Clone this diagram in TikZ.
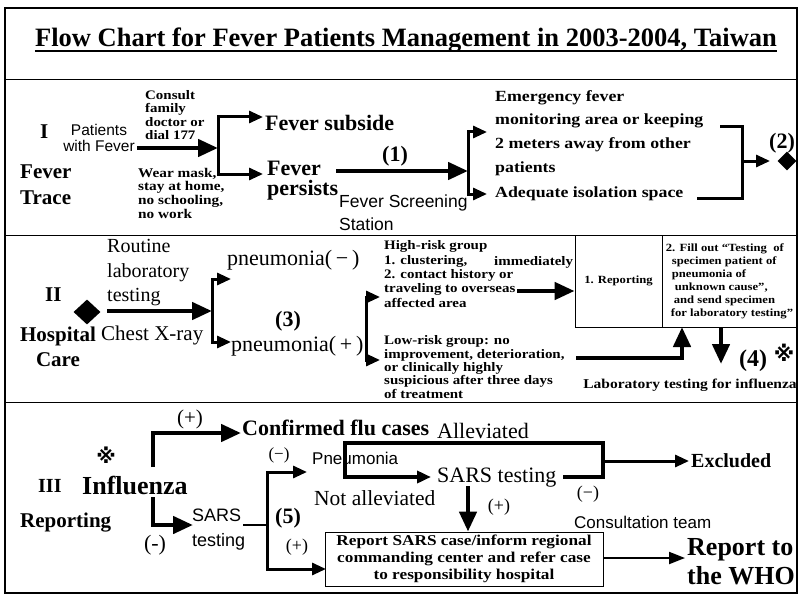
\documentclass[tikz,border=0pt]{standalone}
\usepackage{fontspec}
\setmainfont{Liberation Serif}
\newfontfamily\sansf{Liberation Sans}
\newfontfamily\widerm[FakeStretch=1.15]{Liberation Serif}
\newfontfamily\symf{DejaVu Sans}
\usepackage{tikz}
\usetikzlibrary{arrows.meta,shapes.geometric,positioning,calc}
\newcommand\setfs[2]{\fontsize{#1}{#2}\selectfont}
\tikzset{
  txt/.style={inner sep=0pt, anchor=west},
  bigarrow/.style={line width=4.5pt, -{Triangle[length=20pt,width=17pt]}},
  brarrow/.style={line width=3pt, -{Triangle[length=14pt,width=12pt]}},
  brk/.style={line width=3pt},
  bold/.style={font={\bfseries\setfs{#1}{#1}}},
  small/.style={font={\widerm\bfseries\setfs{13}{13.5}}},
}

\begin{document}
\begin{tikzpicture}[x=1pt,y=-1pt]
    \useasboundingbox (0,0) rectangle (799,596);

    % Frame and section rules
    \draw[line width=1.3pt] (5,8) rectangle (797,593);
    \foreach \yy in {80,235,402}
        \draw[line width=1pt] (5,\yy) -- (797,\yy);

    % Title
    \node[inner sep=0pt, anchor=base, font={\bfseries\setfs{26.5}{30}}] (title) at (406,47)
        {Flow Chart for Fever Patients Management in 2003-2004, Taiwan};
    \draw[line width=1.2pt] ([yshift=-4pt]title.base west) -- ([yshift=-4pt]title.base east);

    % I  Fever Trace
    \node[txt, bold=21] (secI) at (40,132) {I};
    \node[inner sep=0pt, align=center, font={\sansf\setfs{15.5}{16}}] (patients) at (99,138) {Patients\\with Fever};
    \node[txt, align=left, font={\bfseries\setfs{21}{26}}] (trace) at (20,185) {Fever\\Trace};
    \node[txt, align=left, small] (consult) at (145,115) {Consult\\family\\doctor or\\dial 177};
    \node[txt, align=left, font={\widerm\bfseries\setfs{13.3}{13.7}}] (mask) at (138,193) {Wear mask,\\stay at home,\\no schooling,\\no work};
    \node[txt, bold=22] (subside) at (265,123) {Fever subside};
    \node[txt, align=left, font={\bfseries\setfs{22}{20}}] (persists) at (267,181) {Fever\\persists};
    \node[bold=22, inner sep=0pt] (one) at (395,156) {(1)};
    \node[txt, align=left, font={\sansf\setfs{17.5}{23}}] (screen) at (339,213) {Fever Screening\\Station};
    \node[txt, align=left, font={\widerm\bfseries\setfs{15.5}{23.7}}] (emerg) at (495,133)
        {Emergency fever\\monitoring area or keeping\\2 meters away from other\\patients};
    \node[txt, font={\widerm\bfseries\setfs{15.5}{16}}] (isol) at (495,194) {Adequate isolation space};
    \node[bold=22, inner sep=0pt] (two) at (782,143) {(2)};
    \node[diamond, fill=black, inner sep=0pt, minimum width=19pt, minimum height=19pt] (dmdI) at (787,161) {};

    \coordinate (pfOut) at (137,148);
    \coordinate (brA) at (218,148);
    \coordinate (subIn) at (263,117);
    \coordinate (perIn) at (263,174);
    \coordinate (perOut) at (336,171);
    \coordinate (brB) at (468,171);
    \coordinate (emIn) at (487,132);
    \coordinate (isIn) at (487,194);
    \coordinate (emOut) at (720,127);
    \coordinate (isOut) at (697,198);
    \coordinate (brC) at (742,161);
    \coordinate (dmIn) at (770,161);
    \draw[bigarrow] (pfOut) -- (brA);
    \draw[brarrow] (brA) |- (subIn);
    \draw[brarrow] (brA) |- (perIn);
    \draw[bigarrow] (perOut) -- (brB);
    \draw[brarrow] ([yshift=-1pt]brB) |- (emIn);
    \draw[brarrow] ([yshift=-1pt]brB) |- (isIn);
    \draw[brk] (emOut) -| (brC) |- (isOut);
    \draw[brarrow] (brC) -- (dmIn);

    % II  Hospital Care
    \node[txt, bold=21] (secII) at (45,295) {II};
    \node[diamond, fill=black, inner sep=0pt, minimum width=27pt, minimum height=25pt] (dmdII) at (87,312) {};
    \node[txt, align=left, font={\setfs{20}{24.5}}] (routine) at (107,273) {Routine\\laboratory\\testing};
    \node[inner sep=0pt, align=center, font={\bfseries\setfs{21}{25}}] (hosp) at (58,347) {Hospital\\Care};
    \node[txt, font={\setfs{21}{21}}] (xray) at (101,335) {Chest X-ray};
    \node[txt, font={\setfs{22}{22}}] (pneuNeg) at (227,260) {pneumonia(\,−\,)};
    \node[txt, font={\setfs{22}{22}}] (pneuPos) at (231,346) {pneumonia(\,+\,)};
    \node[bold=22, inner sep=0pt] (three) at (288,321) {(3)};
    \node[txt, align=left, font={\widerm\bfseries\setfs{13}{14.3}}] (high) at (384,274)
        {High-risk group\\1. clustering,\\2. contact history or\\traveling to overseas\\affected area};
    \node[txt, font={\widerm\bfseries\setfs{13}{13}}] (immed) at (494,262) {immediately};
    \node[txt, align=left, font={\widerm\bfseries\setfs{13}{13.3}}] (low) at (384,367)
        {Low-risk group: no\\improvement, deterioration,\\or clinically highly\\suspicious after three days\\of treatment};
    \node[draw, line width=0.8pt, minimum width=87pt, minimum height=92pt, inner sep=0pt,
          font={\widerm\bfseries\setfs{11}{13}}] (rep1) at (618.5,281) {1. Reporting};
    \node[draw, line width=0.8pt, minimum width=135pt, minimum height=92pt, inner sep=0pt,
          font={\widerm\bfseries\setfs{11}{13}}, align=left] (rep2) at (729.5,281)
        {2. Fill out “Testing\ \ of\\\hspace*{6pt}specimen patient of\\\hspace*{6pt}pneumonia of\\\hspace*{9pt}unknown cause”,\\\hspace*{8pt}and send specimen\\\hspace*{5pt}for laboratory testing”};
    \node[bold=24, inner sep=0pt] (four) at (753,361) {(4)};
    \node[inner sep=0pt, font={\symf\bfseries\setfs{21}{21}}] (markA) at (784,353) {※};
    \node[inner sep=0pt, font={\widerm\bfseries\setfs{13.5}{14}}] (labtest) at (690,385) {Laboratory testing for influenza};

    \coordinate (routOut) at (107,311);
    \coordinate (brD) at (212,311);
    \coordinate (negIn) at (231,279);
    \coordinate (posIn) at (231,342);
    \coordinate (brE) at (366,328);
    \coordinate (highIn) at (380,297);
    \coordinate (lowIn) at (380,360);
    \coordinate (highOut) at (517,291);
    \coordinate (lowOut) at (576,358);
    \coordinate (rep2In) at (682,327);
    \coordinate (rep2Out) at (721,327);
    \coordinate (labIn) at (721,364);
    \draw[bigarrow] (routOut) -- (brD);
    \draw[brarrow] (brD) |- (negIn);
    \draw[brarrow] (brD) |- (posIn);
    \draw[brarrow] (brE) |- (highIn);
    \draw[brarrow] (brE) |- (lowIn);
    \draw[bigarrow] (highOut) -- (rep1.west |- highOut);
    \draw[bigarrow] (lowOut) -| (rep2In);
    \draw[bigarrow] (rep2Out) -- (labIn);

    % III  Influenza Reporting
    \node[inner sep=0pt, font={\symf\bfseries\setfs{20}{20}}] (markB) at (106,455) {※};
    \node[txt, bold=20] (secIII) at (38,486) {III};
    \node[txt, bold=26] (flu) at (82,485) {Influenza};
    \node[txt, bold=21] (reporting) at (20,523) {Reporting};
    \node[inner sep=0pt, font={\setfs{21}{21}}] (plusA) at (190,419) {(+)};
    \node[txt, bold=22] (confirmed) at (242,428) {Confirmed flu cases};
    \node[inner sep=0pt, font={\setfs{22}{22}}] (minusA) at (155,545) {(-)};
    \node[txt, align=left, font={\sansf\setfs{18}{25}}] (sarsA) at (192,530) {SARS\\testing};
    \node[inner sep=0pt, font={\setfs{17}{17}}] (minusB) at (279,455) {(−)};
    \node[txt, font={\sansf\setfs{17}{17}}] (pneu) at (312,458) {Pneumonia};
    \node[bold=22, inner sep=0pt] (five) at (288,518) {(5)};
    \node[inner sep=0pt, font={\setfs{18}{18}}] (plusB) at (297,547) {(+)};
    \node[txt, font={\setfs{22}{22}}] (allev) at (437,431) {Alleviated};
    \node[txt, font={\setfs{22}{22}}] (sarsB) at (437,478) {SARS testing};
    \node[txt, font={\setfs{21.5}{21.5}}] (notallev) at (314,498) {Not alleviated};
    \node[txt, bold=20] (excl) at (691,461) {Excluded};
    \node[inner sep=0pt, font={\setfs{18}{18}}] (minusC) at (588,494) {(−)};
    \node[inner sep=0pt, font={\setfs{18}{18}}] (plusC) at (499,507) {(+)};
    \node[txt, font={\sansf\setfs{17}{17}}] (team) at (574,522) {Consultation team};
    \node[draw, line width=0.8pt, minimum width=278pt, minimum height=54pt, inner sep=0pt, align=center,
          font={\widerm\bfseries\setfs{15}{17.2}}] (sarsbox) at (464,559)
        {Report SARS case/inform regional\\commanding center and refer case\\to responsibility hospital};
    \node[txt, align=left, font={\bfseries\setfs{26}{29}}] (who) at (687,562) {Report to\\the WHO};

    \coordinate (fluUp) at (153,467);
    \coordinate (fluDn) at (153,497);
    \coordinate (confIn) at (241,433);
    \coordinate (sarsIn) at (193,525);
    \coordinate (sarsOut) at (243,525);
    \coordinate (brF) at (267,525);
    \coordinate (pneuIn) at (307,472);
    \coordinate (boxIn) at (326,569);
    \coordinate (lpEnd) at (563,477);
    \coordinate (brG) at (603,461);
    \coordinate (lpTop) at (345,443);
    \coordinate (sarsBIn) at (431,477);
    \coordinate (exclIn) at (689,461);
    \coordinate (sarsBOut) at (468,486);
    \draw[bigarrow] (fluUp) |- (confIn);
    \draw[bigarrow] (fluDn) |- (sarsIn);
    \draw[line width=2pt] (sarsOut) -- (brF);
    \draw[brarrow] (brF) |- (pneuIn);
    \draw[brarrow] (brF) |- (boxIn);
    \draw[brarrow, line width=3.5pt] (lpEnd) -| (lpTop -| brG) -| (sarsBIn -| lpTop) -- (sarsBIn);
    \draw[brarrow] (brG) -- (exclIn);
    \draw[bigarrow] (sarsBOut) -- (sarsBOut |- sarsbox.north);
    \draw[line width=2pt, -{Triangle[length=16pt,width=12pt]}] (sarsbox.east |- 0,558) -- (685,558);
\end{tikzpicture}
\end{document}
